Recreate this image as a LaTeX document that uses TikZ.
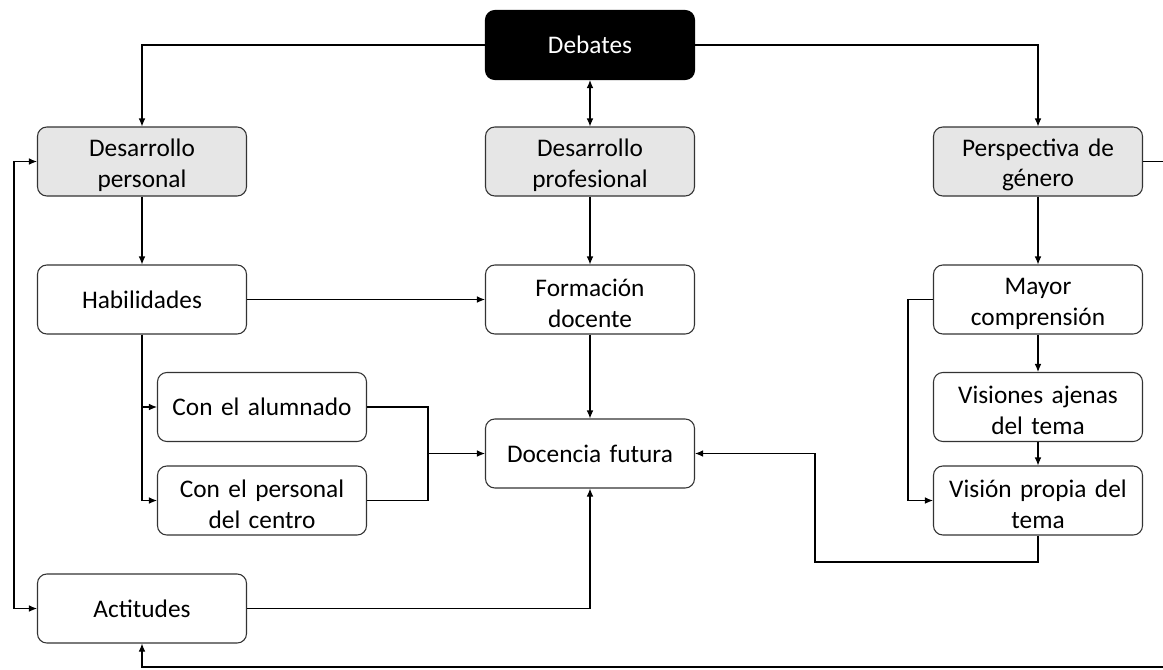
\documentclass[tikz,border=0pt]{standalone}
\usepackage{fontspec}
\setmainfont{Carlito}[WordSpace=0.75]
\usetikzlibrary{arrows.meta}
\definecolor{boxline}{HTML}{333333}
\definecolor{boxgray}{HTML}{E6E6E6}
% raises the first line of two-line labels so the block sits centred
\newcommand\firststrut{\rule{0pt}{18.5pt}}
\begin{document}
\begin{tikzpicture}[x=0.75pt,y=-0.75pt,
  box/.style={draw=boxline,line width=0.8pt,rounded corners=7pt,fill=white,
    minimum width=156.75pt,minimum height=51.75pt,text width=150pt,align=center,
    inner sep=0pt,font=\fontsize{19}{23}\selectfont},
  graybox/.style={box,fill=boxgray},
  topbox/.style={box,fill=black,draw=black,text=white},
  conn/.style={draw=black,line width=0.8pt,-{Latex[length=6pt,width=5pt]}},
  link/.style={draw=black,line width=0.8pt}]
\useasboundingbox (0,0) rectangle (1163,669);
\fill[white] (0,0) rectangle (1163,669);

% boxes
\node[topbox]  (deb)  at (590,45)    {Debates};
\node[graybox] (dper) at (142,161.5) {\firststrut Desarrollo\\personal};
\node[graybox] (dpro) at (590,161.5) {\firststrut Desarrollo\\profesional};
\node[graybox] (pers) at (1038,161.5){\firststrut Perspectiva de\\género};
\node[box] (hab)  at (142,299.5)  {Habilidades};
\node[box] (form) at (590,299.5)  {\firststrut Formación\\docente};
\node[box] (may)  at (1038,299.5) {\firststrut Mayor\\comprensión};
\node[box] (alu)  at (262,407)    {Con el alumnado};
\node[box] (cen)  at (262,500.5)  {\firststrut Con el personal\\del centro};
\node[box] (doc)  at (590,453.5)  {Docencia futura};
\node[box] (vaj)  at (1038,407)   {\firststrut Visiones ajenas\\del tema};
\node[box] (vpr)  at (1038,500.5) {\firststrut Visión propia del\\tema};
\node[box] (act)  at (142,608.5)  {Actitudes};

% routing points
\coordinate (lt) at (14,161.5);
\coordinate (lb) at (14,608.5);
\coordinate (mj) at (428,453.5);
\coordinate (rt) at (1180,161.5);
\coordinate (rb) at (1180,667);
\coordinate (vb) at (815,562);

% links from the top box
\draw[conn] (deb.west) -| (dper.north);
\draw[conn] (deb.east) -| (pers.north);
\draw[conn,{Latex[length=6pt,width=5pt]}-{Latex[length=6pt,width=5pt]}] (deb.south) -- (dpro.north);

% columns
\draw[conn] (dper) -- (hab);
\draw[conn] (dpro) -- (form);
\draw[conn] (pers) -- (may);
\draw[conn] (form) -- (doc);
\draw[conn] (may) -- (vaj);
\draw[conn] (vaj) -- (vpr);
\draw[conn] (hab) -- (form);

% Habilidades branches
\draw[conn] (hab.south) |- (alu.west);
\draw[conn] (hab.south) |- (cen.west);
\draw[link] (alu.east) -| (mj);
\draw[link] (cen.east) -| (mj);
\draw[conn] (mj) -- (doc.west);

% Mayor comprensión to Visión propia
\draw[conn] (may.west) -- ++(-25,0) |- (vpr.west);

% Visión propia back to Docencia futura
\draw[conn] (vpr.south) |- (vb) |- (doc.east);

% Actitudes to Docencia futura
\draw[conn] (act.east) -| (doc.south);

% left loop
\draw[conn,{Latex[length=6pt,width=5pt]}-{Latex[length=6pt,width=5pt]}] (act.west) -- (lb) -- (lt) -- (dper.west);

% Perspectiva de género around to Actitudes
\draw[conn] (pers.east) -- (rt) -- (rb) -| (act.south);
\end{tikzpicture}
\end{document}
